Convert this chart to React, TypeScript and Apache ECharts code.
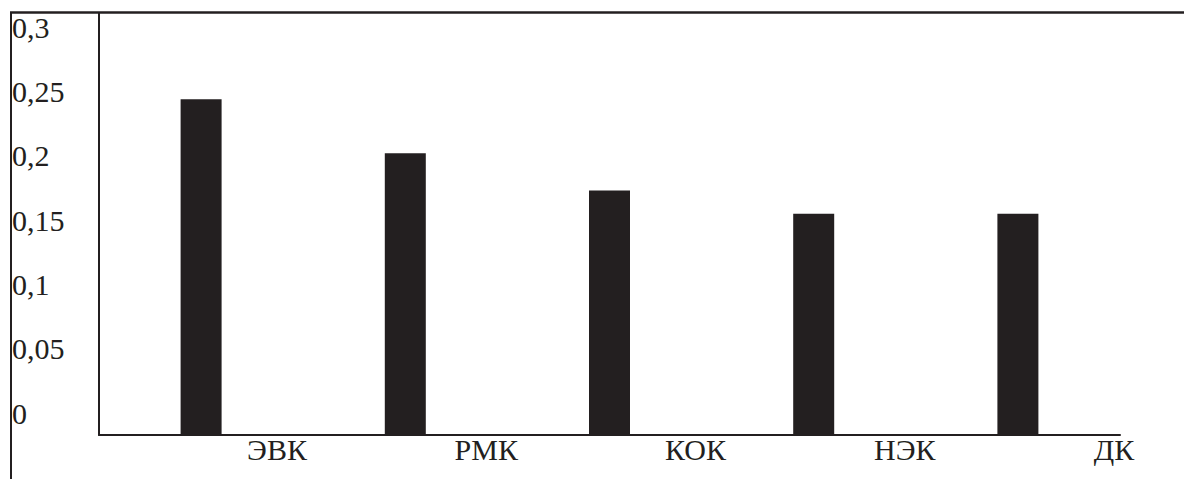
import React, { useEffect, useRef } from "react";
import * as echarts from "echarts";

const categories = ["ЭВК", "РМК", "КОК", "НЭК", "ДК"];
const values = [0.261, 0.219, 0.19, 0.172, 0.172];
const yTicks = { min: 0, max: 0.328, interval: 0.05 };

const INK = "#231f20";
const FONT = "Liberation Serif";

export default function App() {
  const ref = useRef<HTMLDivElement>(null);
  useEffect(() => {
    if (!ref.current) return;
    const chart = echarts.init(ref.current, null, { renderer: "svg" });
    chart.setOption({
      animation: false,
      backgroundColor: "#ffffff",
      textStyle: { fontFamily: FONT },
      grid: [
        { left: 99, right: 64, top: 13, bottom: 44 },
        { left: 277, right: 70, top: 13, bottom: 44 },
      ],
      xAxis: [
        {
          type: "category",
          gridIndex: 0,
          data: categories,
          axisLine: { show: true, lineStyle: { color: INK, width: 2 } },
          axisTick: { show: false },
          axisLabel: { show: false },
          splitLine: { show: false },
        },
        {
          type: "category",
          gridIndex: 1,
          data: categories,
          boundaryGap: false,
          axisLine: { show: false },
          axisTick: { show: false },
          splitLine: { show: false },
          axisLabel: {
            interval: 0,
            color: INK,
            fontFamily: FONT,
            fontSize: 30,
            verticalAlign: "middle",
            margin: 14,
          },
        },
      ],
      yAxis: [
        {
          type: "value",
          gridIndex: 0,
          min: yTicks.min,
          max: yTicks.max,
          interval: yTicks.interval,
          axisLine: { show: true, lineStyle: { color: INK, width: 2 } },
          axisTick: { show: false },
          splitLine: { show: false },
          axisLabel: {
            showMaxLabel: false,
            align: "left",
            margin: 87,
            color: INK,
            fontFamily: FONT,
            fontSize: 30,
            verticalAlign: "bottom",
            lineHeight: 44,
            formatter: (v: number) => String(+v.toFixed(2)).replace(".", ","),
          },
        },
        { type: "value", gridIndex: 1, show: false },
      ],
      series: [
        {
          type: "bar",
          xAxisIndex: 0,
          yAxisIndex: 0,
          data: values,
          barWidth: 41,
          itemStyle: { color: INK },
        },
      ],
      graphic: [
        {
          type: "line",
          shape: { x1: 11, y1: 12, x2: 11, y2: 479 },
          style: { stroke: INK, lineWidth: 2 },
        },
        {
          type: "line",
          shape: { x1: 10, y1: 12.5, x2: 1184, y2: 12.5 },
          style: { stroke: INK, lineWidth: 2.5 },
        },
      ],
    });
    return () => chart.dispose();
  }, []);
  return (
    <div
      ref={ref}
      style={{ position: "absolute", left: 0, top: 0, width: 1184, height: 479, background: "#fff" }}
    />
  );
}
